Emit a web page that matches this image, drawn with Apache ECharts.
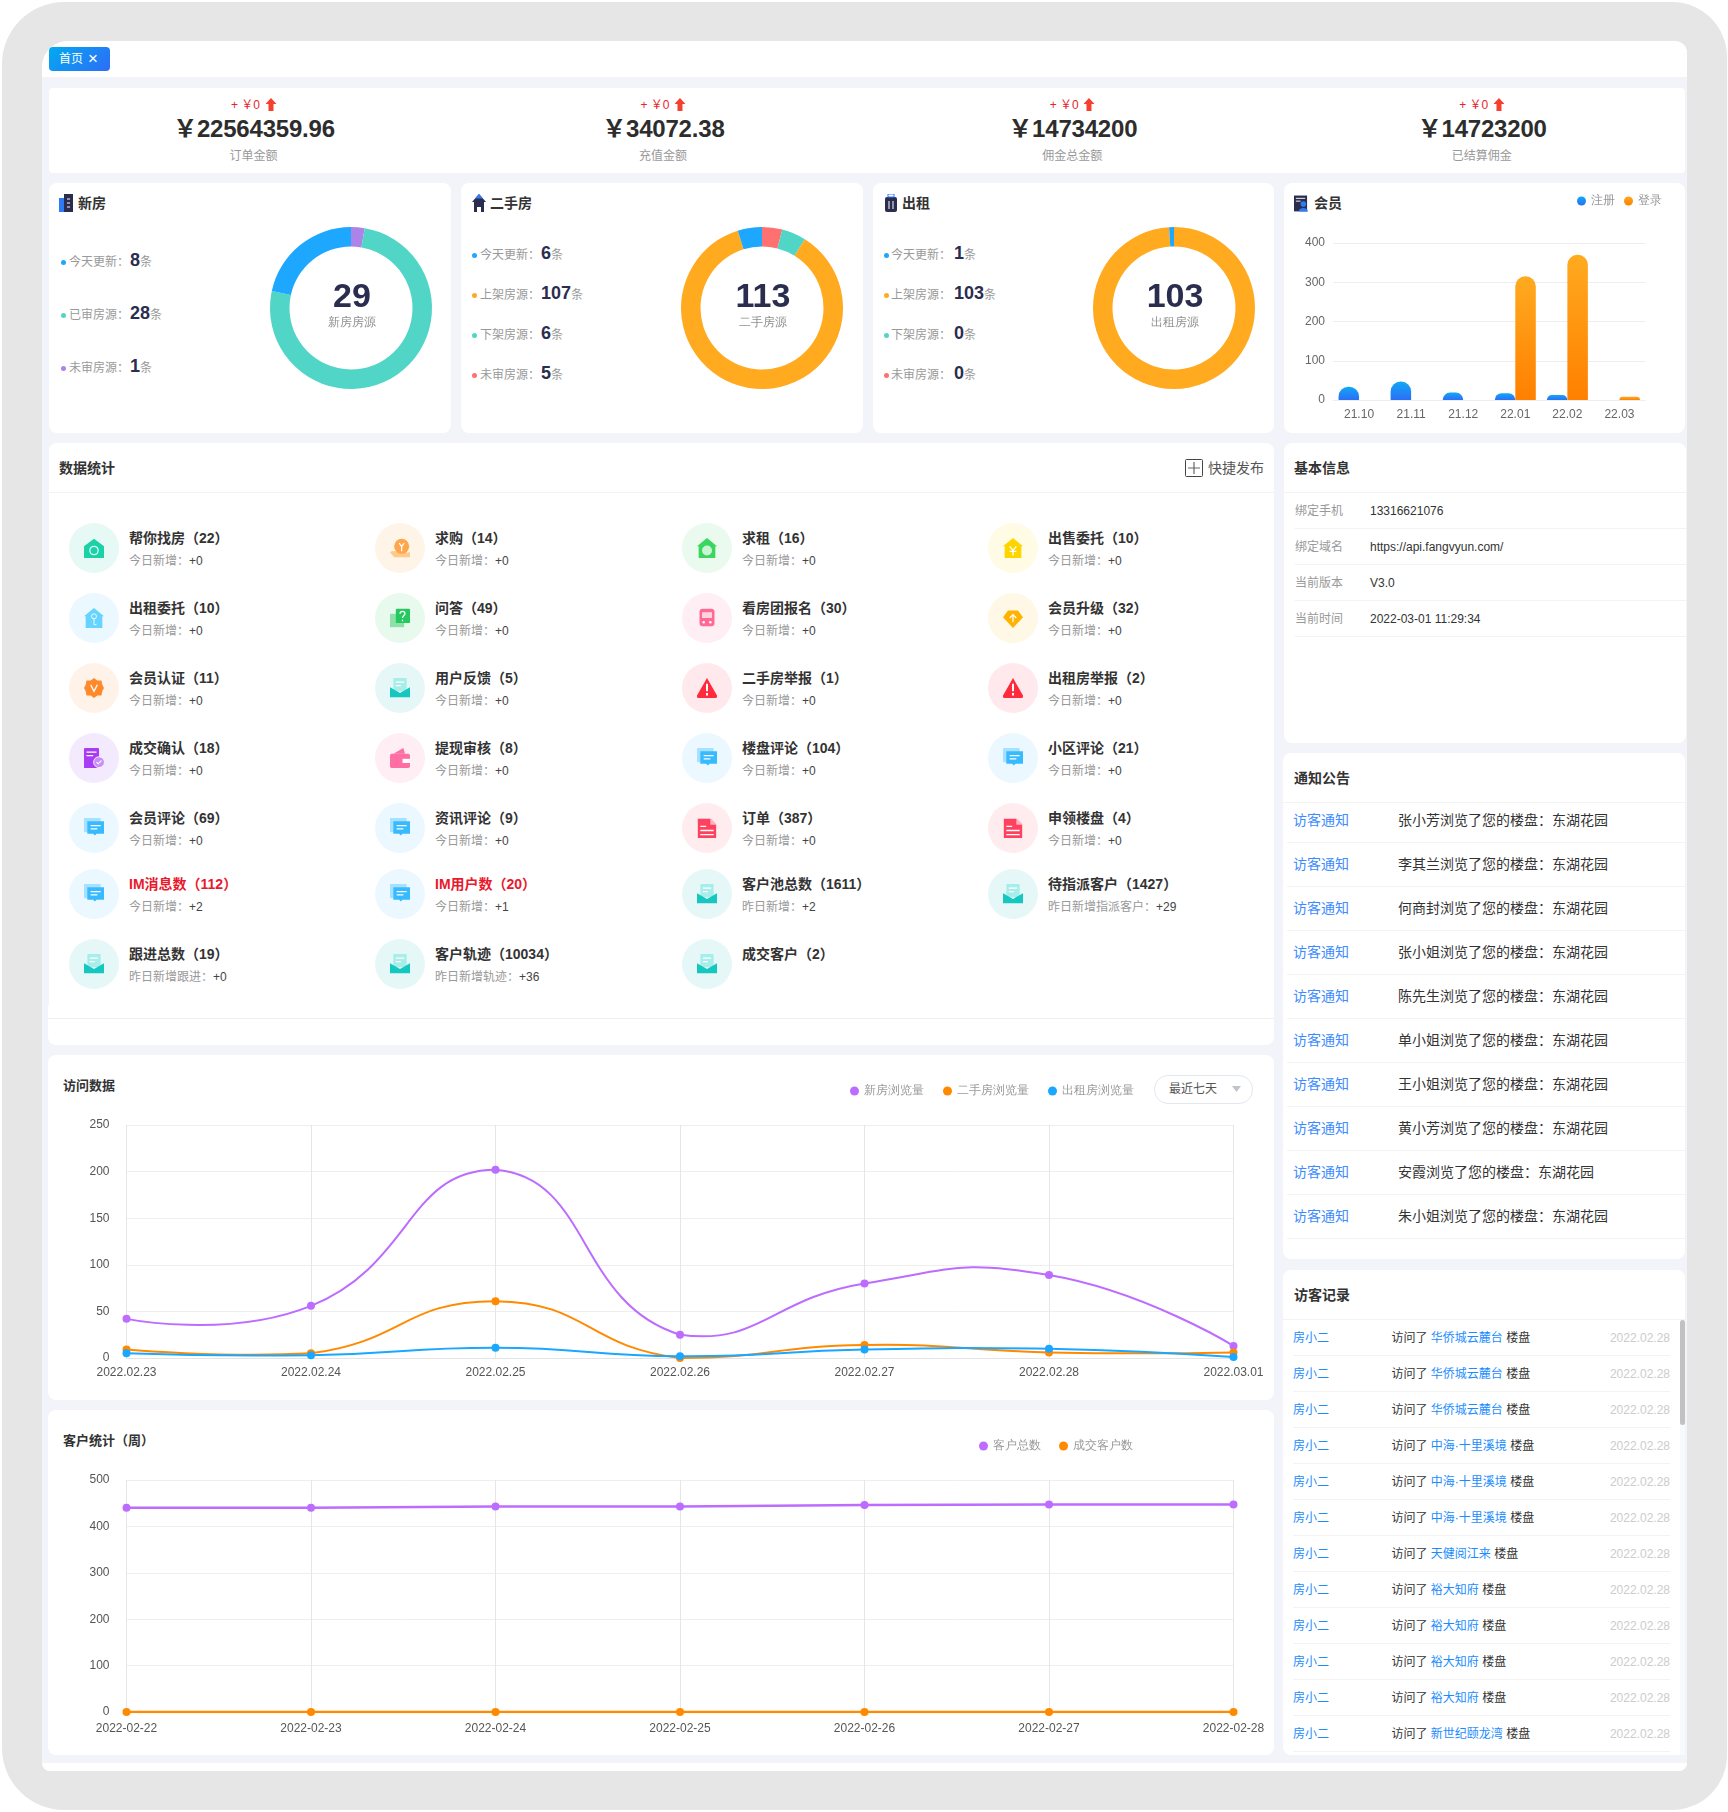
<!DOCTYPE html>
<html>
<head>
<meta charset="utf-8">
<title>首页</title>
<script src="https://cdn.jsdelivr.net/npm/echarts@6/dist/echarts.min.js"></script>
<style>
html, body { margin: 0; padding: 0; background: #fff; }
body { width: 1728px; height: 1812px; position: relative; overflow: hidden; font-family: "Liberation Sans", "Noto Sans CJK SC", sans-serif; color: #333; }
.box { position: absolute; background: #fff; border-radius: 8px; }
.line { position: absolute; height: 1px; background: #f3f3f3; }
.t { position: absolute; white-space: nowrap; line-height: 20px; margin-top: -10px; }
.c { transform: translateX(-50%); }
.r { transform: translateX(-100%); }
.gray { font-size: 12px; color: #999; }
.ico { position: absolute; }
.chart { position: absolute; }
</style>
</head>
<body>
<div id="page"></div>
<script>
// 顶部金额
const moneyValues = ['22564359.96', '34072.38', '14734200', '14723200'];
const moneyLabels = ['订单金额', '充值金额', '佣金总金额', '已结算佣金'];

// 房源环图
const pieTitles = ['新房', '二手房', '出租'];
const pieTotals = [29, 113, 103];
const pieCenters = ['新房房源', '二手房源', '出租房源'];
const newHouseNames = ['今天更新', '已审房源', '未审房源'];
const newHouseValues = [8, 28, 1];
const usedHouseNames = ['今天更新', '上架房源', '下架房源', '未审房源'];
const usedHouseValues = [6, 107, 6, 5];
const rentHouseValues = [1, 103, 0, 0];

// 会员
const memberMonths = ['21.10', '21.11', '21.12', '22.01', '22.02', '22.03'];
const memberRegister = [34, 47, 19, 17, 13, 0];
const memberLogin = [0, 0, 0, 315, 370, 8];

// 数据统计
const statNames = ['帮你找房', '求购', '求租', '出售委托', '出租委托', '问答', '看房团报名', '会员升级', '会员认证', '用户反馈', '二手房举报', '出租房举报', '成交确认', '提现审核', '楼盘评论', '小区评论', '会员评论', '资讯评论', '订单', '申领楼盘', 'IM消息数', 'IM用户数', '客户池总数', '待指派客户', '跟进总数', '客户轨迹', '成交客户'];
const statCounts = [22, 14, 16, 10, 10, 49, 30, 32, 11, 5, 1, 2, 18, 8, 104, 21, 69, 9, 387, 4, 112, 20, 1611, 1427, 19, 10034, 2];
const statSubs = ['今日新增', '今日新增', '今日新增', '今日新增', '今日新增', '今日新增', '今日新增', '今日新增', '今日新增', '今日新增', '今日新增', '今日新增', '今日新增', '今日新增', '今日新增', '今日新增', '今日新增', '今日新增', '今日新增', '今日新增', '今日新增', '今日新增', '昨日新增', '昨日新增指派客户', '昨日新增跟进', '昨日新增轨迹', ''];
const statAdds = [0, 0, 0, 0, 0, 0, 0, 0, 0, 0, 0, 0, 0, 0, 0, 0, 0, 0, 0, 0, 2, 1, 2, 29, 0, 36, null];
const statIcons = ['find', 'coin', 'rentHome', 'sale', 'key', 'qa', 'bus', 'up', 'badge', 'mail', 'warn', 'warn', 'check', 'wallet', 'chat', 'chat', 'chat', 'chat', 'doc', 'doc', 'chat', 'chat', 'mail', 'mail', 'mail', 'mail', 'mail'];

// 访问数据
const visitDays = ['2022.02.23', '2022.02.24', '2022.02.25', '2022.02.26', '2022.02.27', '2022.02.28', '2022.03.01'];
const visitNew = [42, 56, 202, 25, 80, 89, 13];
const visitUsed = [9, 5, 61, 0, 14, 6, 6];
const visitRent = [5, 3, 11, 2, 9, 10, 1];

// 客户统计
const customerDays = ['2022-02-22', '2022-02-23', '2022-02-24', '2022-02-25', '2022-02-26', '2022-02-27', '2022-02-28'];
const customerTotal = [440, 440, 443, 443, 446, 447, 447];
const customerDeal = [0, 0, 0, 0, 0, 0, 0];

// 基本信息
const infoLabels = ['绑定手机', '绑定域名', '当前版本', '当前时间'];
const infoValues = ['13316621076', 'https://api.fangvyun.com/', 'V3.0', '2022-03-01 11:29:34'];

// 通知公告
const noticeNames = ['张小芳', '李其兰', '何商封', '张小姐', '陈先生', '单小姐', '王小姐', '黄小芳', '安霞', '朱小姐'];

// 访客记录
const visitorHouses = ['华侨城云麓台', '华侨城云麓台', '华侨城云麓台', '中海·十里溪境', '中海·十里溪境', '中海·十里溪境', '天健阅江来', '裕大知府', '裕大知府', '裕大知府', '裕大知府', '新世纪颐龙湾'];

const BLUE = '#1ea7ff';
const TEAL = '#51d5c6';
const PURPLE = '#ac84e8';
const RED = '#ff7070';
const ORANGE = '#ffaa1f';
const NAVY = '#2b2d4f';

const STAT_COLS = [94, 400, 707, 1013];
const STAT_ROWS = [548, 618, 688, 758, 828, 894, 964];

const ICONS = {
    find: ['#e6f9f4', '<path d="M12 1 24 10v14H0V10z" fill="#1cd1a5"/><circle cx="12" cy="15" r="5" fill="none" stroke="#dff" stroke-width="1.5"/>'],
    coin: ['#fff4e8', '<path d="M0 17c6-4 10 2 24 0v6H5z" fill="#ffc98a"/><circle cx="14" cy="10" r="9" fill="#ffa64d"/><path d="M11 6l3 4 3-4M14 10v6" stroke="#fff" stroke-width="1.5" fill="none"/>'],
    rentHome: ['#eafaee', '<path d="M12 0 24 10h-2v14H2V10H0z" fill="#3ad660"/><circle cx="12" cy="15" r="6" fill="#c9f5d5"/>'],
    sale: ['#fffbe5', '<path d="M12 0 24 10h-2v14H2V10H0z" fill="#ffd500"/><path d="M8 10l4 5 4-5M12 15v6M8 16h8" stroke="#fff" stroke-width="1.5" fill="none"/>'],
    key: ['#ecf8ff', '<path d="M12 0 24 10h-2v14H2V10H0z" fill="#66d4ff"/><circle cx="12" cy="10" r="3" fill="none" stroke="#fff"/><path d="M12 13v7h3" stroke="#fff" fill="none"/>'],
    qa: ['#e8f9ee', '<rect x="0" y="7" width="17" height="16" fill="#8de0a8"/><rect x="7" y="1" width="17" height="17" rx="1" fill="#25c95f"/><path d="M12 7c0-4 6-4 6 0 0 2-3 2-3 5M15 14v2" stroke="#fff" stroke-width="1.5" fill="none"/>'],
    bus: ['#ffeef3', '<rect x="3" y="1" width="18" height="21" rx="4" fill="#ff6a95"/><rect x="6" y="5" width="12" height="7" fill="#ffd4e0"/><circle cx="8" cy="17" r="1.5" fill="#fff"/><circle cx="16" cy="17" r="1.5" fill="#fff"/>'],
    up: ['#fff8e6', '<path d="M6 3h12l6 8-12 13L0 11z" fill="#ffb300"/><path d="M12 17V8M8 12l4-4 4 4" stroke="#fff" stroke-width="1.5" fill="none"/>'],
    badge: ['#fff3e9', '<path d="M12 0l4 3h5l1 5 2 4-2 4-1 5h-5l-4 3-4-3H3l-1-5-2-4 2-4 1-5h5z" fill="#ff8a2b"/><path d="M8 8l4 8 4-8" stroke="#fff" stroke-width="1.5" fill="none"/>'],
    mail: ['#e5f8f7', '<rect x="4" y="0" width="16" height="16" rx="1" fill="#a7eeea"/><path d="M7 5h10M7 9h6" stroke="#fff" stroke-width="1.5"/><path d="M0 11l12 7 12-7v12H0z" fill="#16c7c0"/>'],
    warn: ['#ffe9ec', '<path d="M12 0 24 21a2 2 0 0 1-2 3H2a2 2 0 0 1-2-3z" fill="#ff2a3c"/><path d="M12 7v9M12 18v3" stroke="#fff" stroke-width="2.4"/>'],
    check: ['#f4eafe', '<rect x="0" y="0" width="18" height="24" rx="1" fill="#a93cf5"/><path d="M3 5h12M3 9h8" stroke="#fff" stroke-width="1.5"/><circle cx="18" cy="17" r="6.5" fill="#c98df8" stroke="#fff"/><path d="M15 17l2 2 4-4" stroke="#fff" stroke-width="1.3" fill="none"/>'],
    wallet: ['#ffeef4', '<path d="M4 7 16 0l2 7z" fill="#ff6fa3"/><rect x="0" y="7" width="24" height="17" rx="2" fill="#ff6fa3"/><rect x="15" y="13" width="9" height="5" fill="#fff"/>'],
    chat: ['#ecf8ff', '<rect x="0" y="0" width="20" height="17" rx="1" fill="#a6e1ff"/><path d="M4 4h20v15h-9l-2 2-2-2H4z" fill="#38baff"/><path d="M8 9h12M8 13h8" stroke="#fff" stroke-width="1.5"/>'],
    doc: ['#ffecef', '<path d="M1 1h15l7 7v15a1 1 0 0 1-1 1H1z" fill="#ff4160"/><path d="M16 0l8 8h-8z" fill="#ffb3c0"/><path d="M4 10h7M4 15h16M4 20h16" stroke="#fff" stroke-width="1.6"/>']
};

const HEAD_ICONS = [
    '<rect x="0" y="4" width="6" height="14" fill="#2f7bf6"/><rect x="5" y="0" width="9" height="18" fill="#2b2d4f"/><path d="M8 5h3M8 9h3M8 13h3" stroke="#fff"/>',
    '<path d="M7 0l7 8h-2v10H9v-5H5v5H2V8H0z" fill="#2b2d4f"/><path d="M7 0l4 4.5H3z" fill="#2f7bf6"/>',
    '<rect x="1" y="3" width="12" height="15" rx="2" fill="#2b2d4f"/><rect x="4" y="0" width="6" height="3" fill="none" stroke="#2f7bf6"/><path d="M5 7v8M9 7v8" stroke="#fff"/>',
    '<rect x="0" y="1" width="14" height="17" fill="#2b2d4f"/><path d="M2 4h10M2 7h5" stroke="#fff"/><circle cx="10" cy="10" r="3" fill="#2f7bf6"/><path d="M5 18c0-5 10-5 10 0z" fill="#2f7bf6"/>'
];

let html = '';

const box = (x, y, w, h, extra = '') => {
    html += `<div class="box" style="left:${x}px;top:${y}px;width:${w}px;height:${h}px;${extra}"></div>`;
};
const line = (x, y, w, color = '#f3f3f3') => {
    html += `<div class="line" style="left:${x}px;top:${y}px;width:${w}px;background:${color}"></div>`;
};
const text = (x, y, str, style = '', cls = '') => {
    html += `<div class="t ${cls}" style="left:${x}px;top:${y}px;${style}">${str}</div>`;
};
const icon = (x, y, w, h, vbW, vbH, body) => {
    html += `<svg class="ico" style="left:${x}px;top:${y}px" width="${w}" height="${h}" viewBox="0 0 ${vbW} ${vbH}">${body}</svg>`;
};

// 外框
box(2, 2, 1725, 1808, 'background:#e6e6e6;border-radius:62px 55px 55px 62px');
box(42, 41, 1645, 1730, 'background:#f3f4f9;border-radius:26px 12px 8px 8px');
box(42, 41, 1645, 36, 'border-radius:26px 12px 0 0');
box(42, 1763, 1645, 8, 'border-radius:0 0 8px 8px');

// 标签页
box(49, 47, 61, 24, 'border-radius:4px;background:linear-gradient(135deg,#02aaf0,#2f6cf7)');
text(59, 59, '首页', 'font-size:12px;color:#fff');
text(88, 59, '×', 'font-size:17px;color:#fff');

// 金额
box(49, 88, 1636, 85, 'border-radius:4px');
moneyValues.forEach((v, i) => {
    const cx = 253.5 + i * 409.4;
    text(cx, 104, `<span style="color:#e8232b;font-size:12px">+ ￥0</span><svg width="11" height="13" viewBox="0 0 11 13" style="margin-left:5px;vertical-align:-2px"><path d="M5.5 0 11 6H8v7H3V6H0z" fill="#f4402c"/></svg>`, '', 'c');
    text(cx + 0.5, 128.5, '￥' + v, 'font-size:24px;font-weight:700;color:#2d2d2d;letter-spacing:-0.2px', 'c');
    text(cx, 156, moneyLabels[i], 'font-size:12px;color:#999', 'c');
});

// 房源卡片
const pieCards = [
    { x: 49, w: 402, cx: 350.7, head: 78, iconX: 59, dot: 63, label: 69, num: 130, ys: [261, 314, 367], names: newHouseNames, values: newHouseValues, colors: [BLUE, TEAL, PURPLE] },
    { x: 461, w: 402, cx: 762.3, head: 490, iconX: 472, dot: 474, label: 480, num: 541, ys: [254, 294, 334, 374], names: usedHouseNames, values: usedHouseValues, colors: [BLUE, ORANGE, TEAL, RED] },
    { x: 873, w: 401, cx: 1173.7, head: 902, iconX: 884, dot: 886, label: 891, num: 954, ys: [254, 294, 334, 374], names: usedHouseNames, values: rentHouseValues, colors: [BLUE, ORANGE, TEAL, RED] }
];
pieCards.forEach((c, i) => {
    box(c.x, 183, c.w, 250);
    icon(c.iconX, 194, 14, 18, 14, 18, HEAD_ICONS[i]);
    text(c.head, 203, pieTitles[i], 'font-size:14px;font-weight:700;color:#333');
    c.names.forEach((n, k) => {
        html += `<div style="position:absolute;left:${c.dot - 2.5}px;top:${c.ys[k] - 1.5}px;width:5px;height:5px;border-radius:50%;background:${c.colors[k]}"></div>`;
        text(c.label, c.ys[k], `<span class="gray">${n}：</span><span style="position:absolute;left:${c.num - c.label}px;top:-1px;white-space:nowrap"><b style="font-size:18px;color:${NAVY}">${c.values[k]}</b><span class="gray">条</span></span>`);
    });
});

// 会员卡片
box(1284, 183, 401, 250);
icon(1294, 194, 14, 18, 15, 18, HEAD_ICONS[3]);
text(1314, 203, '会员', 'font-size:14px;font-weight:700;color:#333');

// 数据统计
box(48, 1000, 1226, 45);
box(49, 443, 1225, 575);
line(48, 1018, 1226, '#eff0f5');
text(59, 468, '数据统计', 'font-size:14px;font-weight:700;color:#333');
line(49, 492, 1225);
icon(1185, 459, 18, 18, 18, 18, '<rect x=".5" y=".5" width="17" height="17" rx="1" fill="none" stroke="#444"/><path d="M9 3v12M3 9h12" stroke="#666" stroke-width="1.2"/>');
text(1208, 468, '快捷发布', 'font-size:14px;color:#555');

statNames.forEach((name, i) => {
    const cx = STAT_COLS[i % 4];
    const cy = STAT_ROWS[Math.floor(i / 4)];
    const ic = ICONS[statIcons[i]];
    html += `<div style="position:absolute;left:${cx - 25}px;top:${cy - 25}px;width:50px;height:50px;border-radius:50%;background:${ic[0]}"></div>`;
    icon(cx - 10, cy - 10, 20, 20, 24, 24, ic[1]);
    const red = name.indexOf('IM') === 0;
    text(cx + 35, cy - 10, `${name}（${statCounts[i]}）`, `font-size:14px;font-weight:700;color:${red ? '#e8192c' : '#333'}`);
    if (statAdds[i] !== null) {
        text(cx + 35, cy + 12, `<span class="gray">${statSubs[i]}：</span><span style="font-size:12px;color:#444">+${statAdds[i]}</span>`);
    }
});

// 访问数据
box(48, 1055, 1226, 345);
text(63, 1086, '访问数据', 'font-size:13px;font-weight:700;color:#333');

// 客户统计
box(48, 1410, 1226, 345);
text(63, 1441, '客户统计（周）', 'font-size:13px;font-weight:700;color:#333');

// 基本信息
box(1284, 443, 402, 300);
text(1294, 468, '基本信息', 'font-size:14px;font-weight:700;color:#333');
line(1284, 492, 402);
infoLabels.forEach((l, i) => {
    const y = 511 + i * 36;
    text(1295, y, l, 'font-size:12px;color:#999');
    text(1370, y, infoValues[i], 'font-size:12px;color:#333');
    line(1295, 528 + i * 36, 391);
});

// 通知公告
box(1283, 753, 402, 506);
text(1294, 778, '通知公告', 'font-size:14px;font-weight:700;color:#333');
line(1283, 802, 402);
noticeNames.forEach((n, i) => {
    const y = 819.5 + i * 44;
    text(1293, y, '访客通知', 'font-size:14px;color:#3d8bff');
    text(1398, y, n + '浏览了您的楼盘：东湖花园', 'font-size:14px;color:#333');
    line(1287, 842 + i * 44, 398);
});

// 访客记录
box(1283, 1270, 402, 485);
text(1294, 1295, '访客记录', 'font-size:14px;font-weight:700;color:#333');
line(1283, 1319, 402);
visitorHouses.forEach((h, i) => {
    const y = 1338 + i * 36;
    text(1293, y, '房小二', 'font-size:12px;color:#1a8cff');
    text(1391.5, y, `访问了 <span style="color:#1a8cff">${h}</span> 楼盘`, 'font-size:12px;color:#333');
    text(1670, y, '2022.02.28', 'font-size:12px;color:#ccc', 'r');
    line(1293, 1355 + i * 36, 377);
});
box(1680, 1320, 5, 435, 'border-radius:0;background:#f8f9fd');
box(1680, 1320, 5, 105, 'border-radius:3px;background:#c1c1c1');

// 下拉框
html += '<div style="position:absolute;left:1154px;top:1075px;width:97px;height:27px;border:1px solid #e4e7ed;border-radius:14px;background:#fff"></div>';
text(1169, 1089, '最近七天', 'font-size:12px;color:#555');
icon(1232, 1086, 9, 6, 9, 6, '<path d="M0 0h9L4.5 6z" fill="#c0c4cc"/>');

document.getElementById('page').innerHTML = html;

const addChart = (x, y, w, h, option) => {
    const el = document.createElement('div');
    el.className = 'chart';
    el.style.cssText = `left:${x}px;top:${y}px;width:${w}px;height:${h}px`;
    document.getElementById('page').appendChild(el);
    const chart = echarts.init(el);
    chart.setOption(option);
    return chart;
};

const pieOption = (total, sub, seriesData) => ({
    animation: false,
    title: {
        text: String(total),
        subtext: sub,
        left: 96,
        textAlign: 'center',
        top: 68,
        itemGap: 2,
        textStyle: { fontSize: 34, fontWeight: 700, color: NAVY, fontFamily: 'Liberation Sans' },
        subtextStyle: { fontSize: 12, color: '#8f8f8f' }
    },
    series: [{
        type: 'pie',
        center: [100, 100],
        radius: [61.5, 81],
        startAngle: 90,
        silent: true,
        label: { show: false },
        labelLine: { show: false },
        data: seriesData
    }]
});

// 起点从未审开始，顺时针排列
const pieSlices = (names, values, colors, order) => order.map(k => ({
    name: names[k],
    value: values[k],
    itemStyle: { color: colors[k] }
}));

addChart(350.7 - 100, 208, 200, 200, pieOption(pieTotals[0], pieCenters[0], pieSlices(newHouseNames, newHouseValues, pieCards[0].colors, [2, 1, 0])));
addChart(762.3 - 100, 208, 200, 200, pieOption(pieTotals[1], pieCenters[1], pieSlices(usedHouseNames, usedHouseValues, pieCards[1].colors, [3, 2, 1, 0])));
addChart(1173.7 - 100, 208, 200, 200, pieOption(pieTotals[2], pieCenters[2], pieSlices(usedHouseNames, rentHouseValues, pieCards[2].colors, [3, 2, 1, 0])));

const legend = (names, left, top, gap) => ({
    data: names,
    left,
    top,
    icon: 'circle',
    itemWidth: 9,
    itemHeight: 9,
    itemGap: gap,
    selectedMode: false,
    textStyle: { fontSize: 12, color: '#999' }
});

const barFill = (top, bottom) => new echarts.graphic.LinearGradient(0, 0, 0, 1, [
    { offset: 0, color: top },
    { offset: 1, color: bottom }
]);

addChart(1284, 183, 401, 250, {
    animation: false,
    color: ['#1a8cff', '#ff9000'],
    legend: legend(['注册', '登录'], 288, 7, 9),
    grid: { left: 49, right: 39.5, top: 60, bottom: 33 },
    xAxis: {
        type: 'category',
        data: memberMonths,
        axisTick: { show: false },
        axisLine: { lineStyle: { color: '#eee' } },
        axisLabel: { color: '#666', fontSize: 12, margin: 9 }
    },
    yAxis: {
        type: 'value',
        min: 0,
        max: 400,
        interval: 100,
        axisLabel: { color: '#666', fontSize: 12, margin: 8 },
        splitLine: { lineStyle: { color: '#eee' } }
    },
    series: [
        { name: '注册', type: 'bar', data: memberRegister, barWidth: 20.5, barGap: 0, itemStyle: { borderRadius: [10, 10, 0, 0], color: barFill('#10a8f5', '#2c6ef7') } },
        { name: '登录', type: 'bar', data: memberLogin, barWidth: 20.5, barGap: 0, itemStyle: { borderRadius: [10, 10, 0, 0], color: barFill('#ffaa1f', '#ff8000') } }
    ]
});

const pointSeries = (name, data, color, width) => ({
    name,
    type: 'line',
    data,
    symbol: 'circle',
    symbolSize: 8,
    z: 3,
    lineStyle: { color, width },
    itemStyle: { color }
});

// 原图的平滑曲线会越过相邻点（v6 的 smooth 会把控制点夹在两点之间），这里按段画贝塞尔
const curveSeries = (name, values, color) => ({
    name,
    type: 'custom',
    data: values.map((v, i) => [i, v]),
    encode: { x: 0, y: 1 },
    z: 2,
    silent: true,
    itemStyle: { color },
    renderItem: (params, api) => {
        const i = params.dataIndex;
        if (i === values.length - 1) {
            return null;
        }
        const pts = values.map((v, k) => api.coord([k, v]));
        const ys = pts.map(p => p[1]);
        const limitY = y => Math.min(Math.max(y, Math.min(...ys)), Math.max(...ys));
        const tangent = k => {
            const prev = pts[Math.max(k - 1, 0)];
            const next = pts[Math.min(k + 1, pts.length - 1)];
            const cur = pts[k];
            const lenPrev = Math.hypot(cur[0] - prev[0], cur[1] - prev[1]);
            const lenNext = Math.hypot(cur[0] - next[0], cur[1] - next[1]);
            return {
                v: [next[0] - prev[0], next[1] - prev[1]],
                ratio: lenPrev + lenNext ? lenNext / (lenPrev + lenNext) : 0.5
            };
        };
        const a = pts[i];
        const b = pts[i + 1];
        const ta = tangent(i);
        const tb = tangent(i + 1);
        const out = i === 0 ? [0, 0] : [ta.v[0] * 0.5 * ta.ratio, ta.v[1] * 0.5 * ta.ratio];
        const inn = i + 1 === pts.length - 1 ? [0, 0] : [tb.v[0] * 0.5 * (1 - tb.ratio), tb.v[1] * 0.5 * (1 - tb.ratio)];
        return {
            type: 'bezierCurve',
            shape: {
                x1: a[0], y1: a[1],
                x2: b[0], y2: b[1],
                cpx1: a[0] + out[0], cpy1: limitY(a[1] + out[1]),
                cpx2: b[0] - inn[0], cpy2: limitY(b[1] - inn[1])
            },
            style: { fill: null, stroke: color, lineWidth: 2 }
        };
    }
});

const lineOption = (days, yMax, yStep, legendCfg, bottom, labelMargin, seriesList) => ({
    animation: false,
    legend: legendCfg,
    grid: { left: 78.5, right: 40.5, top: 70, bottom },
    xAxis: {
        type: 'category',
        data: days,
        boundaryGap: false,
        axisTick: { show: false },
        axisLine: { lineStyle: { color: '#e4e4e4' } },
        axisLabel: { color: '#555', fontSize: 12, margin: labelMargin, hideOverlap: false, interval: 0 },
        splitLine: { show: true, lineStyle: { color: '#e6e6e6' } }
    },
    yAxis: {
        type: 'value',
        min: 0,
        max: yMax,
        interval: yStep,
        axisLabel: { color: '#555', fontSize: 12, margin: 17 },
        splitLine: { lineStyle: { color: '#eee' } }
    },
    series: seriesList
});

const hidden = s => {
    s.lineStyle.opacity = 0;
    return s;
};

addChart(48, 1055, 1226, 345, lineOption(visitDays, 250, 50, legend(['新房浏览量', '二手房浏览量', '出租房浏览量'], 797, 25, 19), 42, 9, [
    curveSeries('新房浏览量', visitNew, '#bc6cff'),
    curveSeries('二手房浏览量', visitUsed, '#ff8a00'),
    curveSeries('出租房浏览量', visitRent, '#1aa7ff'),
    hidden(pointSeries('新房浏览量', visitNew, '#bc6cff', 2)),
    hidden(pointSeries('二手房浏览量', visitUsed, '#ff8a00', 2)),
    hidden(pointSeries('出租房浏览量', visitRent, '#1aa7ff', 2))
]));

addChart(48, 1410, 1226, 345, lineOption(customerDays, 500, 100, legend(['客户总数', '成交客户数'], 926, 25, 18), 43, 11, [
    pointSeries('客户总数', customerTotal, '#bc6cff', 2.5),
    pointSeries('成交客户数', customerDeal, '#ff8a00', 2.5)
]));
</script>
</body>
</html>
